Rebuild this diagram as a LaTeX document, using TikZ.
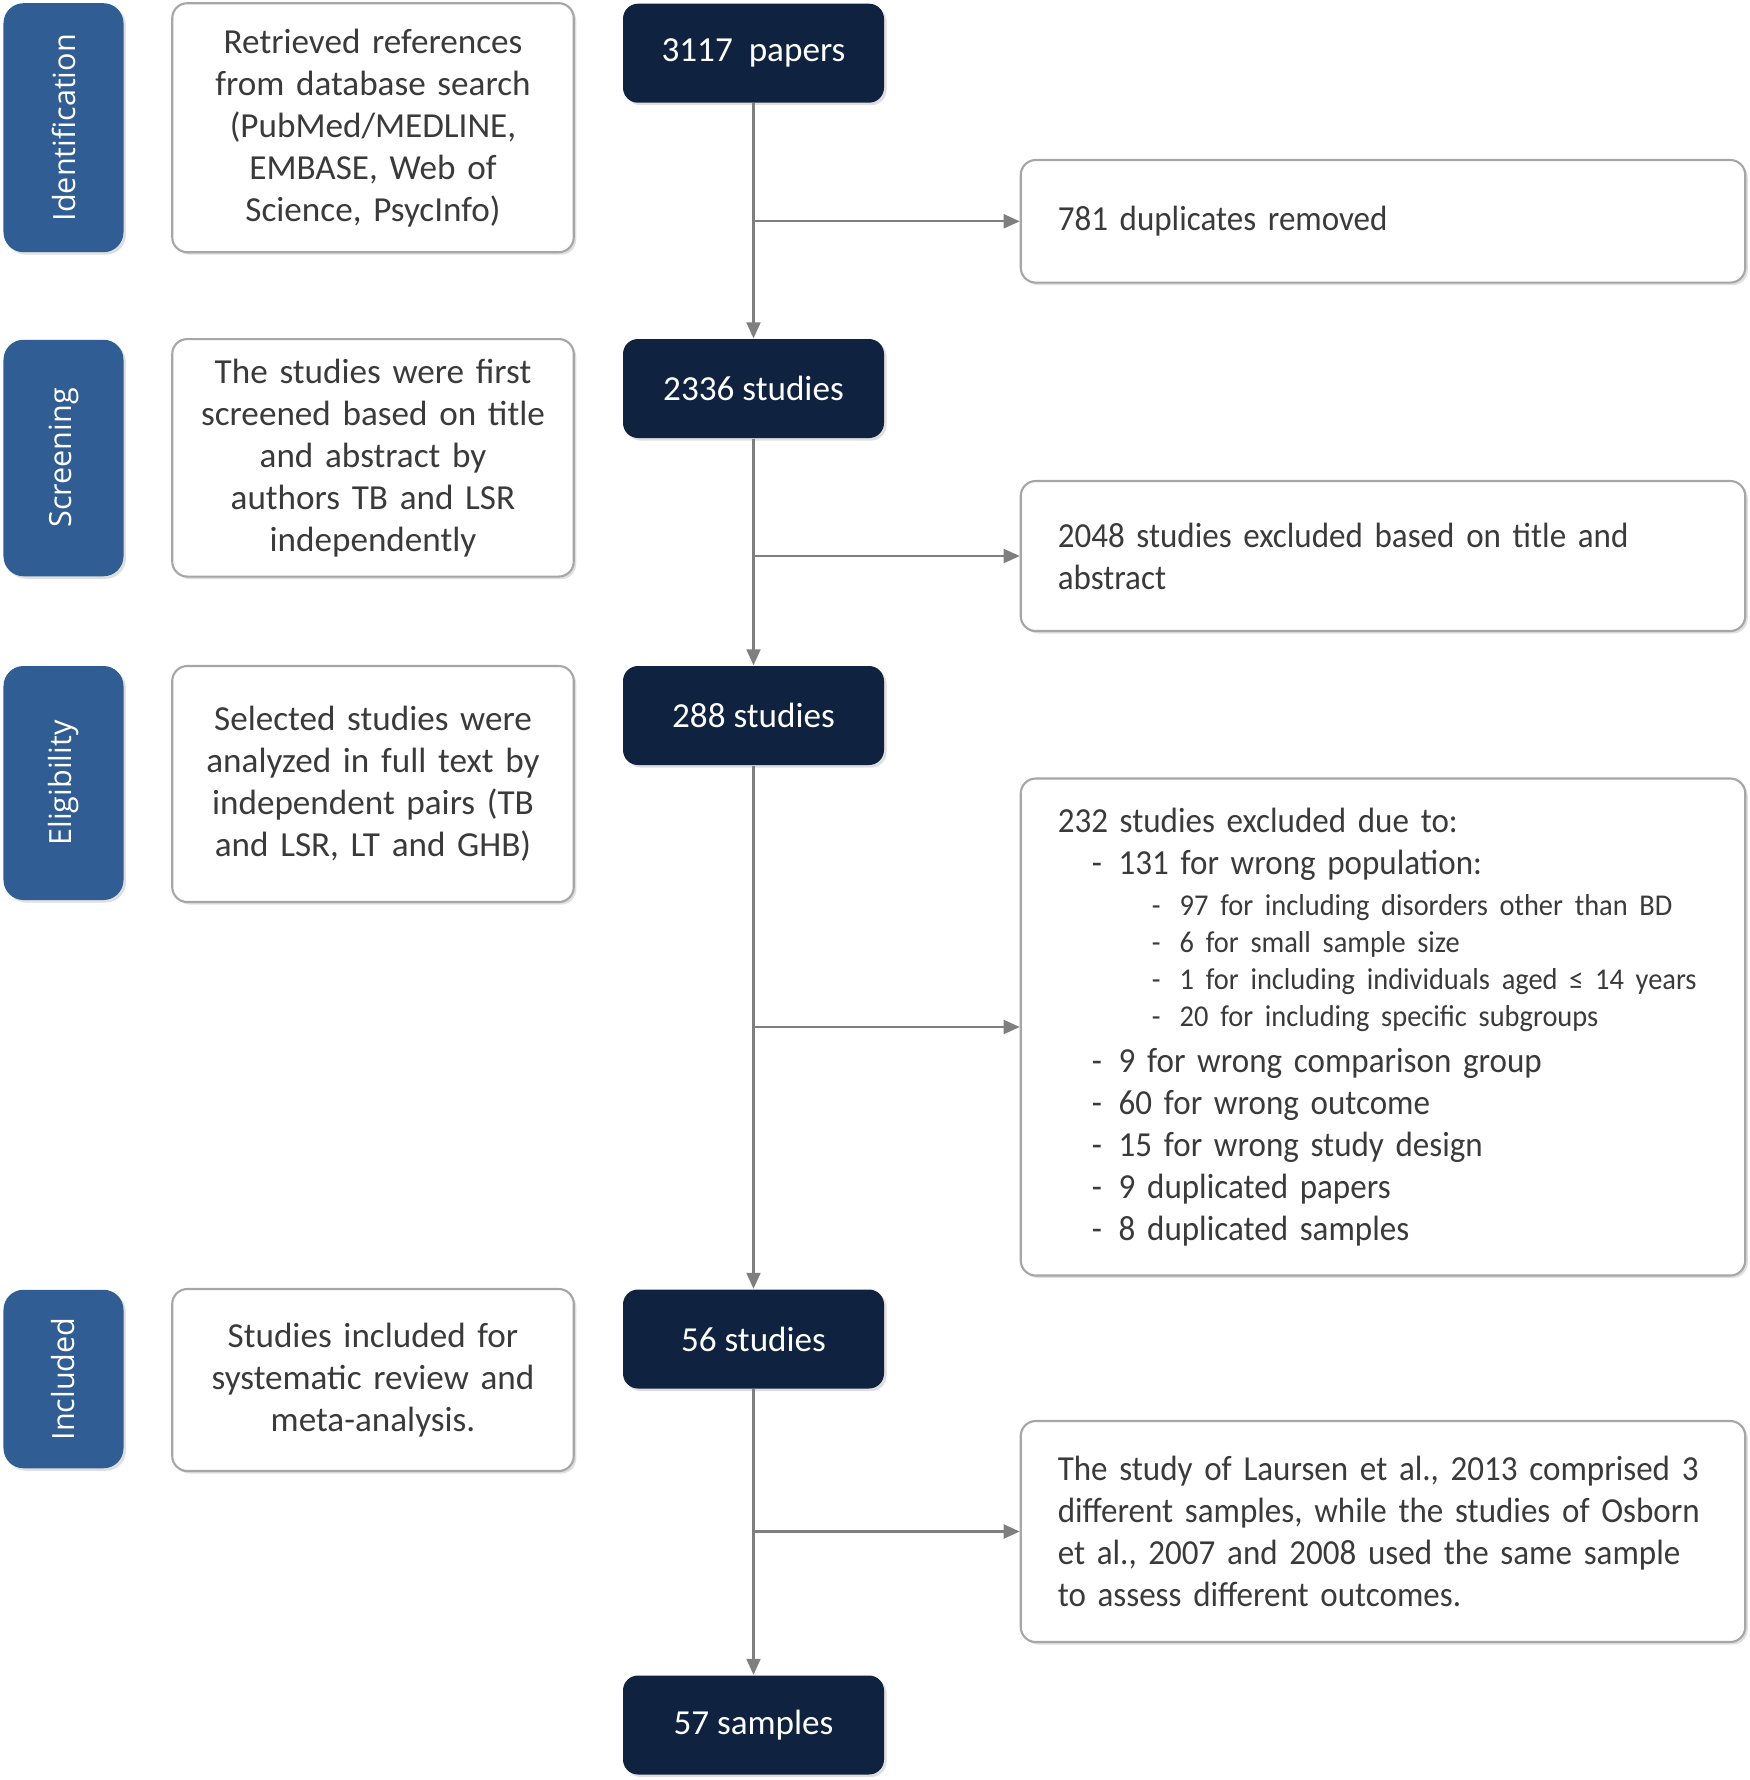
\documentclass[tikz,border=0pt]{standalone}
\usepackage{fontspec}
\setmainfont{Carlito}
\newfontfamily\narrowfont{Carlito}[FakeStretch=0.94]
\newfontfamily\phasefont{Open Sans}
\usetikzlibrary{arrows.meta,shadows}
\definecolor{phaseblue}{HTML}{2F5D94}
\definecolor{navy}{HTML}{0F2340}
\definecolor{linegray}{HTML}{7F7F7F}
\definecolor{boxgray}{HTML}{A6A6A6}
\definecolor{textgray}{HTML}{3A3A3A}
\newcommand{\mainsize}{\fontsize{10}{11.95}\selectfont}
\newcommand{\subsize}{\fontsize{8.6}{10.5}\selectfont}
\newcommand{\itm}[1]{\hspace*{0.34cm}\makebox[0.27cm][l]{-}#1}
\newcommand{\subitm}[1]{\hspace*{0.94cm}\makebox[0.28cm][l]{-}#1}
\tikzset{
  shade/.style={drop shadow={shadow xshift=0.025cm, shadow yshift=-0.025cm, opacity=0.25}},
  phase/.style={shade, fill=phaseblue, rounded corners=0.2cm, rotate=90,
    minimum height=1.2cm, text=white, font=\phasefont\fontsize{8.7}{10}\selectfont, inner sep=0pt},
  note/.style={shade, draw=boxgray, fill=white, line width=0.6pt, rounded corners=0.15cm,
    minimum width=4.015cm, text width=3.6cm, align=center, text=textgray, font=\mainsize, inner sep=0pt},
  count/.style={shade, fill=navy, rounded corners=0.15cm, minimum width=2.61cm,
    minimum height=0.99cm, text=white, font=\mainsize, inner sep=0pt},
  excl/.style={shade, draw=boxgray, fill=white, line width=0.6pt, rounded corners=0.15cm,
    minimum width=7.245cm, text width=6.505cm, align=left, text=textgray,
    font=\narrowfont\mainsize, execute at begin node={\hyphenpenalty=10000 },
    inner xsep=0.37cm, inner ysep=0pt},
  flow/.style={draw=linegray, line width=0.6pt, -{Triangle[length=0.16cm, width=0.14cm]}}
}
\begin{document}
\begin{tikzpicture}
	%%%%% FRAME %%%%%
	\useasboundingbox (0,0) rectangle (17.5,-17.8);
	
	%%%%% PHASES %%%%%
	\node[phase, minimum width=2.49cm] (ident) at (0.635,-1.277) {Identification};
	\node[phase, minimum width=2.365cm] (screen) at (0.635,-4.58) {Screening};
	\node[phase, minimum width=2.34cm] (elig) at (0.635,-7.83) {Eligibility};
	\node[phase, minimum width=1.785cm] (incl) at (0.635,-13.79) {Included};
	
	%%%%% DESCRIPTIONS %%%%%
	\node[note, minimum height=2.49cm] (identtxt) at (3.73,-1.277)
		{Retrieved references\\from database search\\(PubMed/MEDLINE,\\EMBASE, Web of\\Science, PsycInfo)};
	\node[note, minimum height=2.375cm] (screentxt) at (3.73,-4.578)
		{The studies were first\\screened based on title\\and abstract by\\authors TB and LSR\\independently};
	\node[note, minimum height=2.36cm] (eligtxt) at (3.73,-7.84)
		{Selected studies were\\analyzed in full text by\\independent pairs (TB\\and LSR, LT and GHB)};
	\node[note, minimum height=1.82cm] (incltxt) at (3.73,-13.80)
		{Studies included for\\systematic review and\\meta-analysis.};
	
	%%%%% COUNTS %%%%%
	\node[count] (papers) at (7.535,-0.532) {3117~~papers};
	\node[count] (studiesA) at (7.535,-3.885) {2336 studies};
	\node[count] (studiesB) at (7.535,-7.155) {288 studies};
	\node[count] (studiesC) at (7.535,-13.39) {56 studies};
	\node[count] (samples) at (7.535,-17.25) {57 samples};
	
	%%%%% EXCLUSIONS %%%%%
	\node[excl, minimum height=1.226cm] (dup) at (13.83,-2.213) {781 duplicates removed};
	\node[excl, minimum height=1.5cm] (title) at (13.83,-5.56)
		{2048 studies excluded based on title and\\abstract};
	\node[excl, minimum height=4.97cm] (full) at (13.83,-10.27)
		{{\mainsize 232 studies excluded due to:\\
		\itm{131 for wrong population:}\par}
		{\subsize\vspace{0.04cm}\subitm{97 for including disorders other than BD}\\
		\subitm{6 for small sample size}\\
		\subitm{1 for including individuals aged \char"2264{} 14 years}\\
		\subitm{20 for including specific subgroups}\par}
		{\mainsize\vspace{0.04cm}\itm{9 for wrong comparison group}\\
		\itm{60 for wrong outcome}\\
		\itm{15 for wrong study design}\\
		\itm{9 duplicated papers}\\
		\itm{8 duplicated samples}\par}};
	\node[excl, minimum height=2.21cm] (merge) at (13.83,-15.315)
		{The study of Laursen et al., 2013 comprised 3\\different samples, while the studies of Osborn\\et al., 2007 and 2008 used the same sample\\to assess different outcomes.};
	
	%%%%% FLOW %%%%%
	\draw[flow] (papers) -- (studiesA);
	\draw[flow] (studiesA) -- (studiesB);
	\draw[flow] (studiesB) -- (studiesC);
	\draw[flow] (studiesC) -- (samples);
	
	\draw[flow] (papers |- dup) -- (dup);
	\draw[flow] (studiesA |- title) -- (title);
	\draw[flow] (studiesB |- full) -- (full);
	\draw[flow] (studiesC |- merge) -- (merge);
	
\end{tikzpicture}
\end{document}
